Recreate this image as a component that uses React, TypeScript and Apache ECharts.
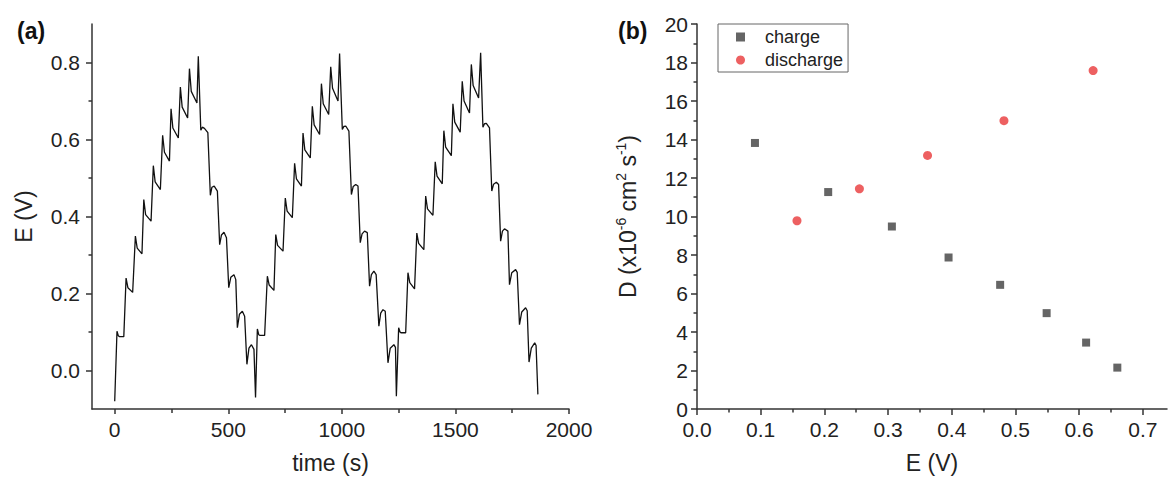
import React, { useEffect, useRef } from "react";
import * as echarts from "echarts";

// (a) potential vs time, three GITT cycles: [time (s), E (V)]
const cycle1: number[][] = [
  [0, -0.08], [10, 0.102], [16, 0.09], [20, 0.088], [40, 0.088],
  [50, 0.24], [58, 0.215], [79, 0.203],
  [91, 0.349], [99, 0.318], [120, 0.303],
  [128, 0.444], [136, 0.405], [160, 0.388],
  [170, 0.532], [178, 0.49], [201, 0.47],
  [211, 0.611], [219, 0.567], [241, 0.544],
  [248, 0.68], [256, 0.63], [280, 0.604],
  [289, 0.736], [297, 0.684], [321, 0.656],
  [329, 0.784], [337, 0.725], [362, 0.695],
  [368, 0.816], [379, 0.624], [386, 0.632], [395, 0.629], [410, 0.618],
  [421, 0.455], [428, 0.476], [438, 0.479], [452, 0.466],
  [462, 0.327], [470, 0.352], [481, 0.359], [492, 0.345],
  [502, 0.215], [511, 0.242], [525, 0.249], [533, 0.236],
  [540, 0.111], [549, 0.146], [562, 0.154], [572, 0.141],
  [582, 0.016], [591, 0.058], [602, 0.067], [613, 0.055],
  [620, -0.07],
];
const cycle2: number[][] = [
  [628, 0.108], [634, 0.093], [640, 0.091], [660, 0.091],
  [672, 0.245], [680, 0.222], [701, 0.208],
  [709, 0.353], [717, 0.325], [741, 0.31],
  [751, 0.448], [759, 0.414], [782, 0.397],
  [792, 0.538], [800, 0.498], [822, 0.479],
  [829, 0.617], [837, 0.573], [861, 0.552],
  [870, 0.686], [878, 0.638], [902, 0.613],
  [910, 0.745], [918, 0.693], [942, 0.665],
  [951, 0.789], [959, 0.733], [983, 0.7],
  [990, 0.823], [1002, 0.626], [1009, 0.634], [1017, 0.635], [1031, 0.622],
  [1042, 0.457], [1050, 0.478], [1061, 0.483], [1071, 0.479],
  [1081, 0.332], [1089, 0.355], [1100, 0.362], [1112, 0.358],
  [1122, 0.219], [1130, 0.249], [1141, 0.258], [1151, 0.249],
  [1163, 0.115], [1171, 0.149], [1181, 0.158], [1191, 0.154],
  [1203, 0.02], [1213, 0.058], [1229, 0.067], [1236, 0.06],
  [1240, -0.067],
];
const cycle3: number[][] = [
  [1250, 0.111], [1256, 0.1], [1260, 0.098], [1281, 0.098],
  [1291, 0.254], [1299, 0.228], [1320, 0.212],
  [1330, 0.357], [1338, 0.33], [1361, 0.314],
  [1369, 0.453], [1377, 0.42], [1401, 0.403],
  [1411, 0.542], [1419, 0.505], [1442, 0.485],
  [1449, 0.623], [1457, 0.58], [1482, 0.558],
  [1489, 0.693], [1497, 0.645], [1521, 0.619],
  [1530, 0.751], [1538, 0.7], [1562, 0.669],
  [1570, 0.795], [1578, 0.74], [1602, 0.708],
  [1611, 0.825], [1621, 0.632], [1628, 0.641], [1636, 0.642], [1650, 0.63],
  [1660, 0.466], [1668, 0.484], [1680, 0.489], [1690, 0.483],
  [1699, 0.336], [1707, 0.362], [1716, 0.368], [1731, 0.362],
  [1738, 0.223], [1748, 0.254], [1765, 0.262], [1772, 0.255],
  [1782, 0.119], [1792, 0.152], [1809, 0.163], [1816, 0.155],
  [1824, 0.022], [1834, 0.058], [1849, 0.072], [1855, 0.065],
  [1863, -0.062],
];

// (b) diffusion coefficient vs potential
const chargeE = [0.091, 0.206, 0.306, 0.395, 0.476, 0.549, 0.611, 0.66];
const chargeD = [13.82, 11.27, 9.48, 7.87, 6.45, 4.98, 3.45, 2.15];
const dischargeE = [0.157, 0.255, 0.362, 0.482, 0.622];
const dischargeD = [9.78, 11.44, 13.17, 14.98, 17.58];

// tick labels / tick positions
const timeLabels = [0, 500, 1000, 1500, 2000];
const timeMinor = [250, 750, 1250, 1750];
const eLabels = [0, 0.2, 0.4, 0.6, 0.8];
const eMinor = [0.1, 0.3, 0.5, 0.7];
const bxLabels = [0, 0.1, 0.2, 0.3, 0.4, 0.5, 0.6, 0.7];
const bxMinor = [0.05, 0.15, 0.25, 0.35, 0.45, 0.55, 0.65];
const byLabels = [0, 2, 4, 6, 8, 10, 12, 14, 16, 18, 20];
const byMinor = [1, 3, 5, 7, 9, 11, 13, 15, 17, 19];

const FONT = "Liberation Sans, Arial, sans-serif";
const TXT = "#222";
const AX = "#333";

export default function App() {
  const ref = useRef<HTMLDivElement>(null);
  useEffect(() => {
    if (!ref.current) return;
    const chart = echarts.init(ref.current, null, { renderer: "svg" });
    const lineData = [...cycle1, ...cycle2, ...cycle3];
    const axLine = { show: true, onZero: false, lineStyle: { color: AX, width: 1.5 } };
    const majorAxis = (extra: any) => ({
      type: "value",
      axisLine: axLine,
      splitLine: { show: false },
      nameTextStyle: { fontFamily: FONT, fontSize: 23, color: TXT },
      ...extra,
    });
    const minorAxis = (extra: any) => ({
      type: "value",
      axisLine: { show: false, onZero: false },
      splitLine: { show: false },
      axisLabel: { show: false },
      ...extra,
    });
    const labelStyle = { fontFamily: FONT, fontSize: 21, color: TXT };
    const fmt1 = (v: number) => v.toFixed(1);

    chart.setOption({
      animation: false,
      backgroundColor: "#fff",
      grid: [
        { left: 92, top: 24, width: 477, height: 385 },
        { left: 697, top: 24, width: 470, height: 385 },
      ],
      xAxis: [
        majorAxis({
          gridIndex: 0, min: -100, max: 2000, position: "bottom",
          name: "time (s)", nameLocation: "middle", nameGap: 42,
          axisTick: { show: true, customValues: [...timeLabels], length: 5, lineStyle: { color: AX, width: 1.5 } },
          axisLabel: { ...labelStyle, margin: 10, customValues: timeLabels, formatter: (v: number) => String(v) },
        }),
        minorAxis({
          gridIndex: 0, min: -100, max: 2000, position: "bottom",
          axisTick: { show: true, customValues: timeMinor, length: 4, lineStyle: { color: AX, width: 1.5 } },
        }),
        majorAxis({
          gridIndex: 1, min: 0, max: 0.738, position: "bottom",
          name: "E (V)", nameLocation: "middle", nameGap: 42,
          axisTick: { show: true, customValues: bxLabels, length: 6, lineStyle: { color: AX, width: 1.5 } },
          axisLabel: { ...labelStyle, margin: 10, customValues: bxLabels, formatter: fmt1 },
        }),
        minorAxis({
          gridIndex: 1, min: 0, max: 0.738, position: "bottom",
          axisTick: { show: true, customValues: bxMinor, length: 3.5, lineStyle: { color: AX, width: 1.5 } },
        }),
      ],
      yAxis: [
        majorAxis({
          gridIndex: 0, min: -0.1, max: 0.9, position: "left",
          name: "E (V)", nameLocation: "middle", nameGap: 57, nameRotate: 90,
          axisTick: { show: true, customValues: eLabels, length: 6, lineStyle: { color: AX, width: 1.5 } },
          axisLabel: { ...labelStyle, margin: 12, customValues: eLabels, formatter: fmt1 },
        }),
        minorAxis({
          gridIndex: 0, min: -0.1, max: 0.9, position: "left",
          axisTick: { show: true, customValues: eMinor, length: 3.5, lineStyle: { color: AX, width: 1.5 } },
        }),
        majorAxis({
          gridIndex: 1, min: 0, max: 20, position: "left",
          name: "{n|D (x10}{s|-6}{n| cm}{s|2}{n| s}{s|-1}{n|)}",
          nameLocation: "middle", nameGap: 55, nameRotate: 90,
          nameTextStyle: {
            fontFamily: FONT, fontSize: 23, color: TXT,
            rich: {
              n: { fontFamily: FONT, fontSize: 23, color: TXT },
              s: { fontFamily: FONT, fontSize: 14, color: TXT, padding: [0, 0, 14, 0] },
            },
          },
          axisTick: { show: true, customValues: byLabels, length: 6, lineStyle: { color: AX, width: 1.5 } },
          axisLabel: { ...labelStyle, margin: 9, customValues: byLabels, formatter: (v: number) => String(v) },
        }),
        minorAxis({
          gridIndex: 1, min: 0, max: 20, position: "left",
          axisTick: { show: true, customValues: byMinor, length: 3.5, lineStyle: { color: AX, width: 1.5 } },
        }),
      ],
      legend: {
        left: 718, top: 24, orient: "vertical",
        data: [
          { name: "charge", icon: "rect" },
          { name: "discharge", icon: "circle" },
        ],
        itemWidth: 9, itemHeight: 9, itemGap: 3,
        padding: [3, 5, 2, 18],
        borderColor: "#666", borderWidth: 1, borderRadius: 0,
        textStyle: { fontFamily: FONT, fontSize: 18, color: TXT, lineHeight: 20, padding: [0, 0, 0, 15] },
      },
      graphic: [
        { type: "text", left: 17, top: 19, style: { text: "(a)", fontFamily: FONT, fontSize: 23, fontWeight: "bold", fill: "#111" } },
        { type: "text", left: 618, top: 19, style: { text: "(b)", fontFamily: FONT, fontSize: 23, fontWeight: "bold", fill: "#111" } },
      ],
      series: [
        {
          type: "line", xAxisIndex: 0, yAxisIndex: 0,
          data: lineData, showSymbol: false, symbol: "none",
          lineStyle: { color: "#111", width: 1.3 },
        },
        {
          name: "charge", type: "scatter", xAxisIndex: 2, yAxisIndex: 2,
          data: chargeE.map((e, i) => [e, chargeD[i]]),
          symbol: "rect", symbolSize: 8,
          itemStyle: { color: "#3f3f3f" },
        },
        {
          name: "discharge", type: "scatter", xAxisIndex: 2, yAxisIndex: 2,
          data: dischargeE.map((e, i) => [e, dischargeD[i]]),
          symbol: "circle", symbolSize: 9,
          itemStyle: { color: "#e8383a" },
        },
      ],
    });
    return () => chart.dispose();
  }, []);
  return (
    <div
      ref={ref}
      style={{ position: "absolute", left: 0, top: 0, width: 1168, height: 479 }}
    />
  );
}
